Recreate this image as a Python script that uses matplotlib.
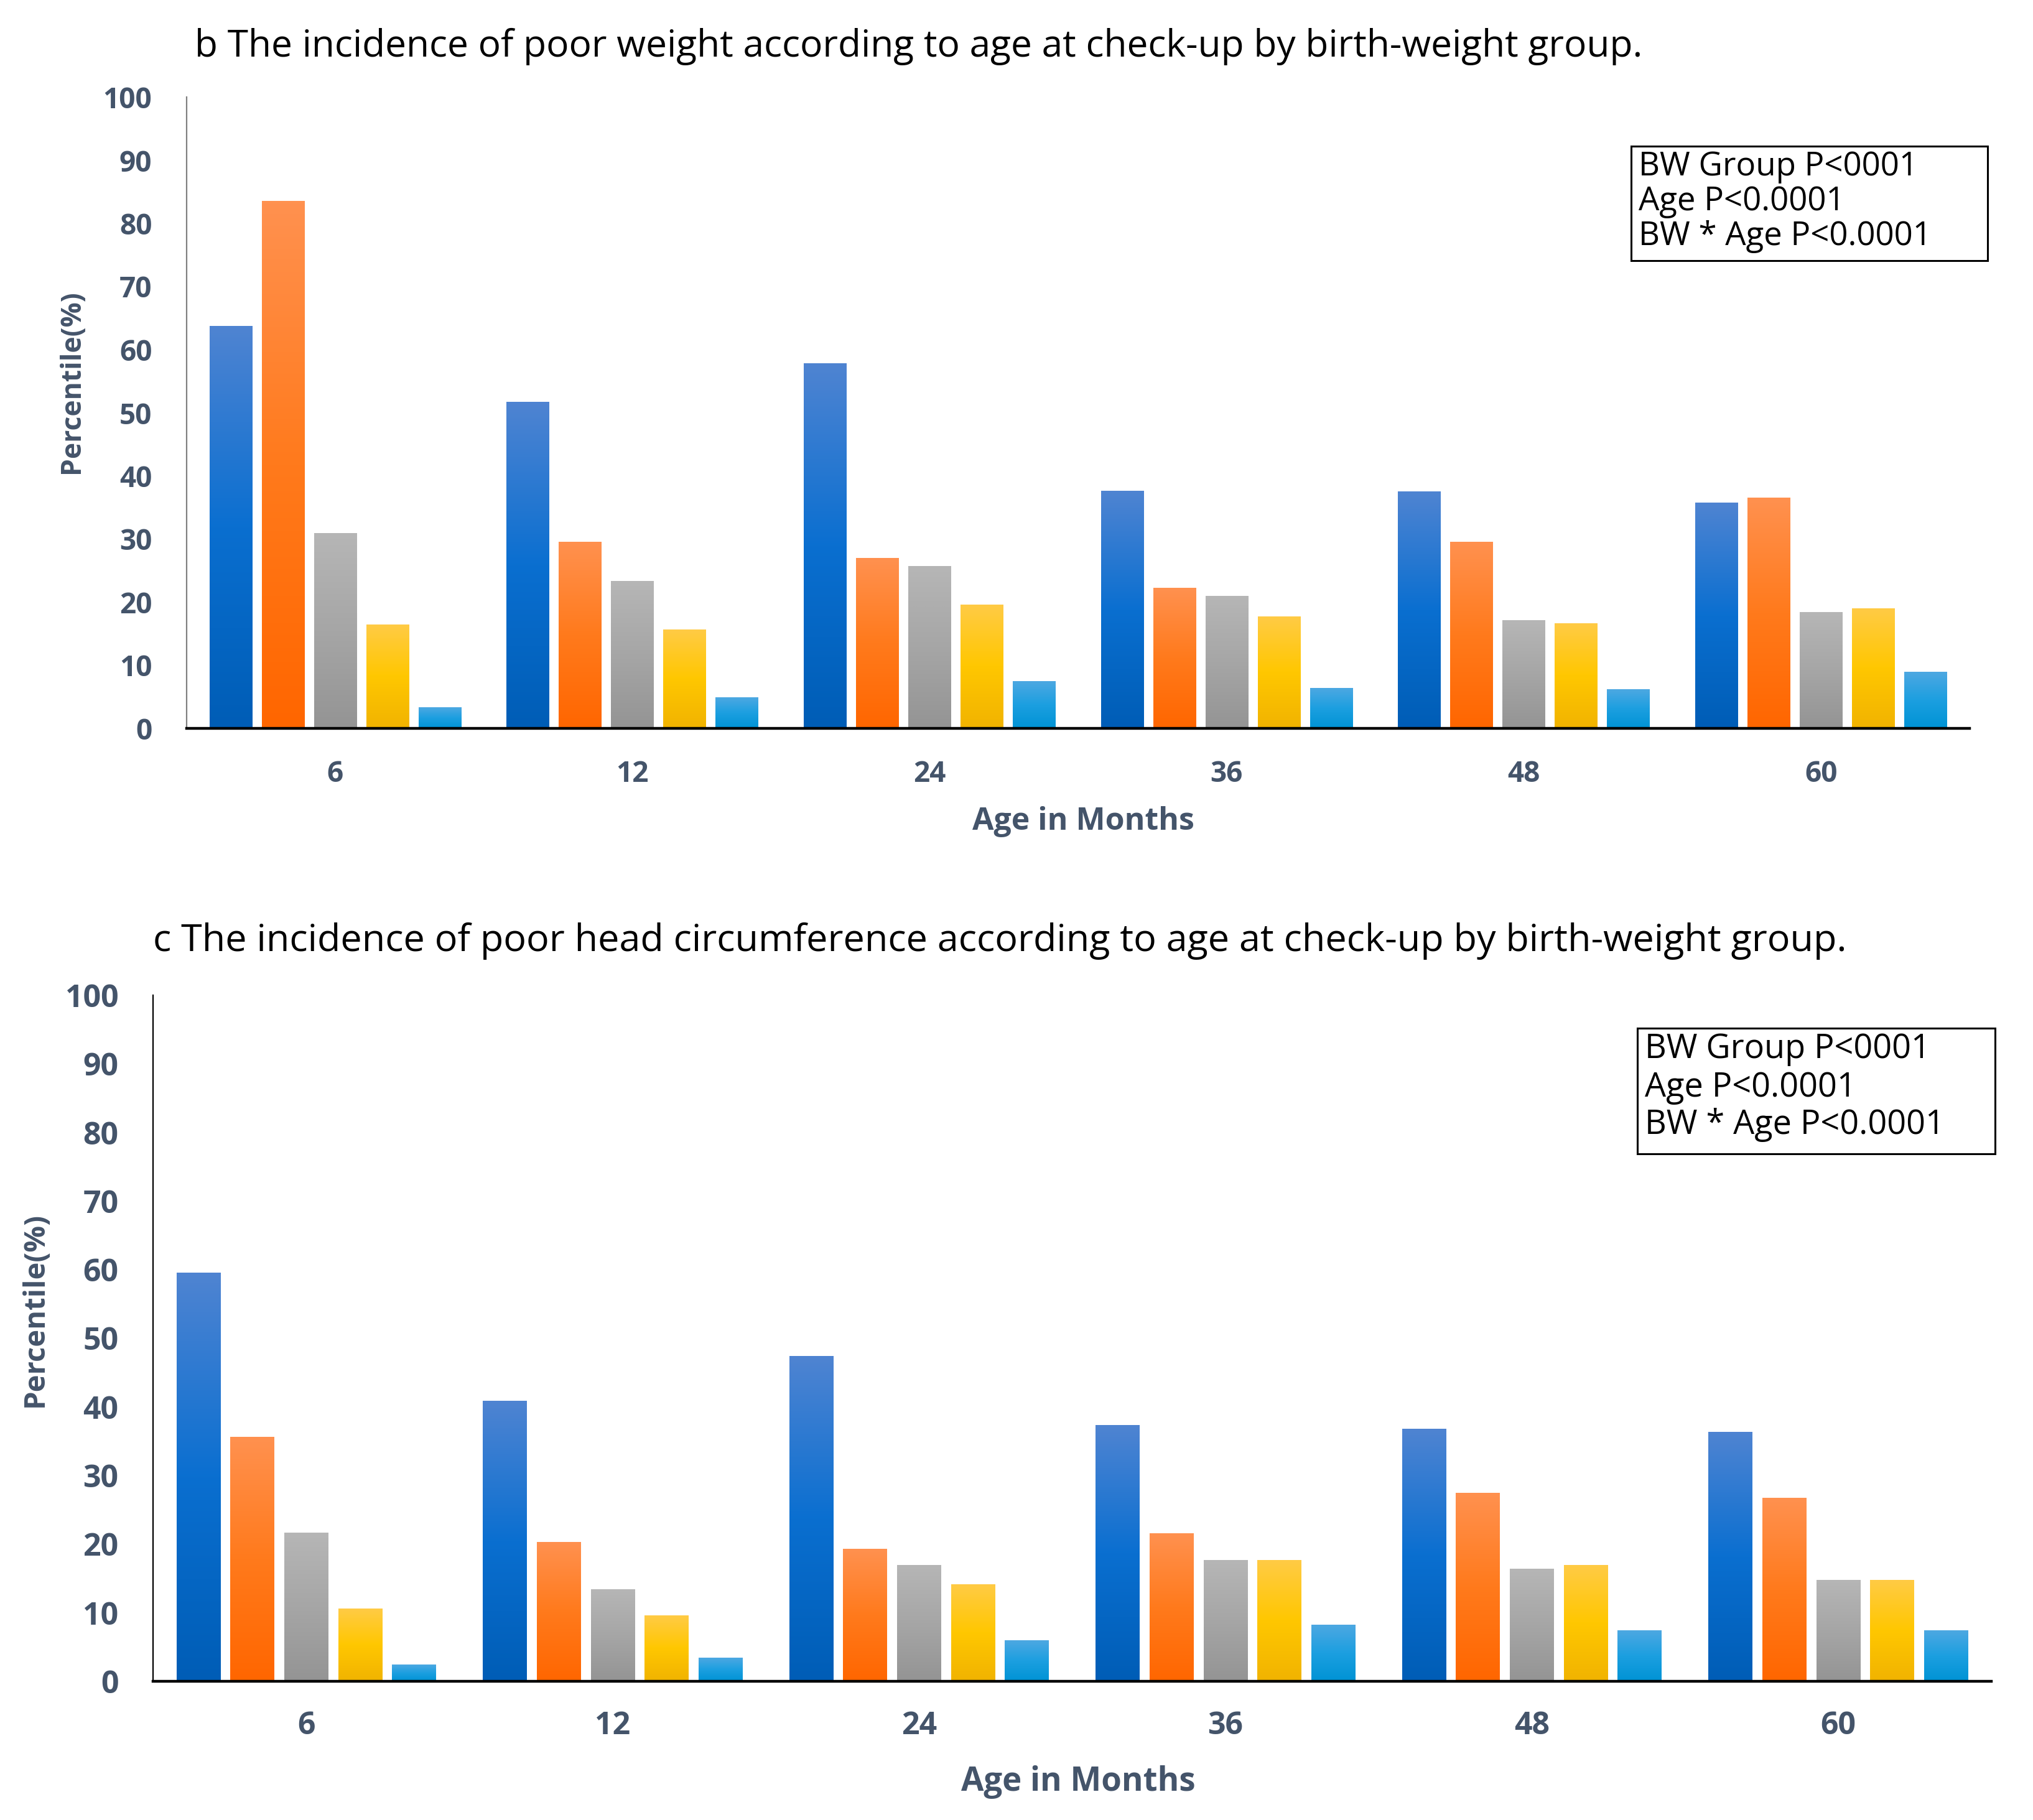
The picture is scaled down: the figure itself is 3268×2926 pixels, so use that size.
import numpy as np
import matplotlib
matplotlib.use('Agg')
import matplotlib.pyplot as plt
from matplotlib.colors import LinearSegmentedColormap
from matplotlib.patches import Rectangle

# ---- data ----
ages = ['6', '12', '24', '36', '48', '60']
yticks = list(range(0, 101, 10))

# panel b : poor weight
weight_g1 = [63.7, 51.7, 57.8, 37.6, 37.5, 35.7]
weight_g2 = [83.5, 29.5, 26.9, 22.2, 29.5, 36.5]
weight_g3 = [30.9, 23.3, 25.7, 20.9, 17.1, 18.4]
weight_g4 = [16.4, 15.6, 19.6, 17.7, 16.6, 19.0]
weight_g5 = [3.3, 4.9, 7.4, 6.4, 6.2, 8.9]

# panel c : poor head circumference
head_g1 = [59.5, 40.8, 47.4, 37.3, 36.8, 36.3]
head_g2 = [35.6, 20.3, 19.3, 21.5, 27.4, 26.7]
head_g3 = [21.6, 13.4, 16.9, 17.6, 16.4, 14.7]
head_g4 = [10.6, 9.6, 14.1, 17.6, 16.9, 14.7]
head_g5 = [2.4, 3.4, 5.9, 8.2, 7.4, 7.4]

title_b = 'b The incidence of poor weight according to age at check-up by birth-weight group.'
title_c = 'c The incidence of poor head circumference according to age at check-up by birth-weight group.'
stats_lines = ['BW Group P<0001', 'Age P<0.0001', 'BW * Age P<0.0001']

# gradient stops top -> bottom for each birth-weight group
grad_colors = [
    ['#4F84D2', '#0A6FD0', '#005DB6'],
    ['#FF914F', '#FF7A1C', '#FF6600'],
    ['#B6B6B6', '#A6A6A6', '#949494'],
    ['#FFCB45', '#FFC700', '#F1B300'],
    ['#4DA8E2', '#1C9FE0', '#0093D5'],
]

W, H = 3268, 2926
DPI = 200
TXT = '#44546A'
plt.rcParams['font.family'] = ['Open Sans', 'DejaVu Sans']

fig = plt.figure(figsize=(W / DPI, H / DPI), dpi=DPI, facecolor='white')


def px(x, y):
    # pixel position (from top-left) -> figure fraction
    return x / W, 1 - y / H


def grad_bars(ax, series, width=0.143, step=0.176):
    base = np.arange(len(ages))
    grad = np.linspace(0, 1, 256).reshape(-1, 1)
    for i, vals in enumerate(series):
        cmap = LinearSegmentedColormap.from_list('g%d' % i, grad_colors[i])
        bars = ax.bar(base + (i - 2) * step, vals, width, color=grad_colors[i][1],
                      linewidth=0, zorder=2)
        for b in bars:
            x0, w, h = b.get_x(), b.get_width(), b.get_height()
            ax.imshow(grad, extent=[x0, x0 + w, 0, h], aspect='auto', cmap=cmap,
                      interpolation='bicubic', zorder=3)


def style_axes(ax, left_color, tick_size, pad_y, pad_x):
    ax.set_xlim(-0.5, len(ages) - 0.5)
    ax.set_ylim(0, 100)
    ax.set_xticks(np.arange(len(ages)))
    ax.set_xticklabels(ages)
    ax.set_yticks(yticks)
    ax.set_yticklabels([str(t) for t in yticks])
    for lab in ax.get_xticklabels() + ax.get_yticklabels():
        lab.set_fontweight('bold')
        lab.set_color(TXT)
        lab.set_fontsize(tick_size)
    ax.tick_params(axis='y', length=0, pad=pad_y)
    ax.tick_params(axis='x', length=0, pad=pad_x)
    ax.spines['top'].set_visible(False)
    ax.spines['right'].set_visible(False)
    ax.spines['left'].set_color(left_color)
    ax.spines['left'].set_linewidth(0.8)
    ax.spines['bottom'].set_color('black')
    ax.spines['bottom'].set_linewidth(1.6)
    ax.spines['bottom'].set_zorder(5)


def stats_box(x0, y0, x1, y1, tx, ty, dy, size):
    l, t = px(x0, y0)
    r, b = px(x1, y1)
    fig.patches.append(Rectangle((l, b), r - l, t - b, transform=fig.transFigure,
                                 facecolor='white', edgecolor='black', linewidth=1.1))
    for k, line in enumerate(stats_lines):
        fx, fy = px(tx, ty + k * dy)
        fig.text(fx, fy, line, fontsize=size, color='black', va='center', ha='left')


# ---- panel b ----
l, t = px(300, 156)
r, b = px(3166, 1171)
ax1 = fig.add_axes([l, b, r - l, t - b])
grad_bars(ax1, [weight_g1, weight_g2, weight_g3, weight_g4, weight_g5])
style_axes(ax1, '#808080', 16.5, 20, 18)

fx, fy = px(313, 75)
fig.text(fx, fy, title_b, fontsize=21.8, color='black', va='center', ha='left')
fx, fy = px(1741, 1321)
fig.text(fx, fy, 'Age in Months', fontsize=18, fontweight='bold', color=TXT,
         ha='center', va='center')
fx, fy = px(115, 614)
fig.text(fx, fy, 'Percentile(%)', fontsize=16, fontweight='bold', color=TXT,
         ha='center', va='center', rotation=90)
stats_box(2622, 235, 3195, 419, 2634, 268, 56, 19)

# ---- panel c ----
l, t = px(246, 1600)
r, b = px(3201, 2703)
ax2 = fig.add_axes([l, b, r - l, t - b])
grad_bars(ax2, [head_g1, head_g2, head_g3, head_g4, head_g5])
style_axes(ax2, 'black', 18, 20, 17)

fx, fy = px(246, 1513)
fig.text(fx, fy, title_c, fontsize=22, color='black', va='center', ha='left')
fx, fy = px(1733, 2865)
fig.text(fx, fy, 'Age in Months', fontsize=19, fontweight='bold', color=TXT,
         ha='center', va='center')
fx, fy = px(56, 2105)
fig.text(fx, fy, 'Percentile(%)', fontsize=17, fontweight='bold', color=TXT,
         ha='center', va='center', rotation=90)
stats_box(2632, 1653, 3207, 1855, 2644, 1687, 61, 19.4)

fig.savefig('out.png', dpi=DPI, facecolor='white')
